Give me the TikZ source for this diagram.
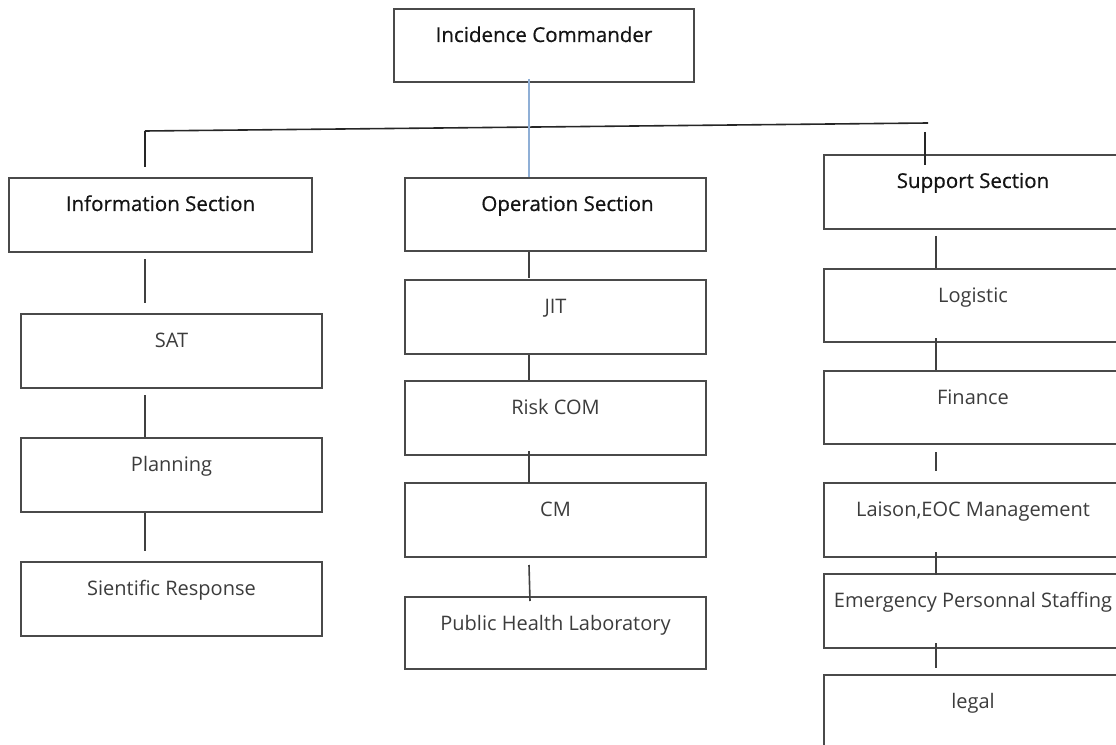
\documentclass[tikz,border=0pt]{standalone}
\usepackage{fontspec}
\setmainfont{Open Sans}
\newfontfamily\headfont[FakeBold=0.6]{Open Sans}
\usetikzlibrary{calc}
\definecolor{boxline}{HTML}{4A4A4A}
\definecolor{headtext}{HTML}{141414}
\definecolor{itemtext}{HTML}{3C3C3C}
\definecolor{stem}{HTML}{8FAFD6}
\tikzset{
  box/.style={draw=boxline, line width=1.5pt, rectangle, anchor=north west,
    inner sep=0pt, minimum width=301*0.75pt, align=center,
    text height=24.75pt, text depth=30.75pt, font=\fontsize{15}{18}\selectfont},
  head/.style={box, text=headtext, font=\headfont\fontsize{15.4}{18}\selectfont},
  item/.style={box, text=itemtext},
  link/.style={draw=black!75, line width=1.2pt},
  bar/.style={draw=black!85, line width=1.2pt}
}
\begin{document}
\begin{tikzpicture}[x=0.75pt, y=-0.75pt]
\useasboundingbox (0,0) rectangle (1116,745);
\begin{scope}
\clip (0,0) rectangle (1116,745);

% top of the tree
\node[head, minimum width=300*0.75pt, text depth=30pt] (cmd) at (393,8) {Incidence Commander};

% information section column
\node[head, minimum width=303*0.75pt] (info) at (8,177) {Information Section};
\node[item] (sat) at (20,313) {SAT};
\node[item] (plan) at (20,437) {Planning};
\node[item] (sci) at (20,561) {Sientific Response};

% operation section column
\node[head, text depth=30pt] (ops) at (404,177) {\hspace{18pt}Operation Section};
\node[item] (jit) at (404,279) {JIT};
\node[item] (risk) at (404,380) {Risk COM};
\node[item] (cm) at (404,482) {CM};
\node[item, text depth=29.25pt] (phl) at (404,596) {Public Health Laboratory};

% support section column
\node[head, minimum width=298*0.75pt] (sup) at (823,154) {Support Section};
\node[item, minimum width=298*0.75pt, text depth=30pt] (logi) at (823,268) {Logistic};
\node[item, minimum width=298*0.75pt, text depth=30pt] (fin) at (823,370) {Finance};
\node[item, minimum width=298*0.75pt] (lai) at (823,482) {Laison,EOC Management};
\node[item, minimum width=298*0.75pt] (emg) at (823,573) {Emergency Personnal Staffing};
\node[item, minimum width=298*0.75pt] (leg) at (823,674) {legal};

% x positions of the vertical connectors
\coordinate (lx) at (145,0);
\coordinate (mx) at (529,0);
\coordinate (rx) at (936,0);

% branching bar
\coordinate (hl) at (145,131);
\coordinate (hr) at (928,123);
\coordinate (hd) at (925,132);
\draw[bar] (hl) -- (hr);
\draw[bar] (hl) -- ($(hl |- info.north)+(0,-10)$);
\draw[bar] (hd) -- ($(hd |- sup.north)+(0,11)$);

% commander to operation section
\draw[stem, line width=1.3pt] ($(cmd.south -| mx)+(0,-4)$) -- (ops.north -| mx);

% information column links
\draw[link] ($(info.south -| lx)+(0,6)$) -- ($(sat.north -| lx)+(0,-10)$);
\draw[link] ($(sat.south -| lx)+(0,6)$) -- (plan.north -| lx);
\draw[link] (plan.south -| lx) -- ($(sci.north -| lx)+(0,-10)$);

% operation column links
\draw[link] (ops.south -| mx) -- ($(jit.north -| mx)+(0,-1)$);
\draw[link] (jit.south -| mx) -- (risk.north -| mx);
\draw[link] ($(risk.south -| mx)+(0,-5)$) -- ($(cm.north -| mx)+(0,1)$);
\draw[link] ($(cm.south -| mx)+(0,7)$) -- ($(phl.north -| mx)+(1,5)$);

% support column links
\draw[link] ($(sup.south -| rx)+(0,6)$) -- (logi.north -| rx);
\draw[link] ($(logi.south -| rx)+(0,-5)$) -- (fin.north -| rx);
\draw[link] ($(fin.south -| rx)+(0,7)$) -- ($(lai.north -| rx)+(0,-11)$);
\draw[link] ($(lai.south -| rx)+(0,-6)$) -- ($(emg.north -| rx)+(0,2)$);
\draw[link] ($(emg.south -| rx)+(0,-6)$) -- ($(leg.north -| rx)+(0,-6)$);
\end{scope}
\end{tikzpicture}
\end{document}
